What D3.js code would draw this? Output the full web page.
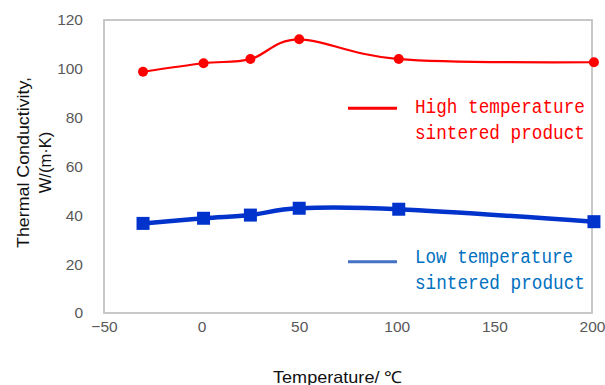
<!DOCTYPE html>
<html><head><meta charset="utf-8">
<script src="https://cdn.jsdelivr.net/npm/d3@7"></script>
<style>body{margin:0;background:#fff;}svg{display:block;}</style>
</head><body>
<svg id="c" width="605" height="385"></svg>
<script>
const temps = [-30, 1, 25, 50, 101, 201];
const highTemp = [98.8, 102.3, 104.0, 112.1, 104.0, 102.7];
const lowTemp = [36.7, 38.8, 40.1, 42.9, 42.5, 37.4];
const xTicks = [-50, 0, 50, 100, 150, 200];
const yTicks = [0, 20, 40, 60, 80, 100, 120];
const seriesNames = [["High temperature", "sintered product"], ["Low temperature", "sintered product"]];

const svg = d3.select("#c");
const L = 104, R = 592, T = 20, B = 313;
const x = d3.scaleLinear().domain([-50, 200]).range([L, R]);
const y = d3.scaleLinear().domain([0, 120]).range([B, T]);

svg.append("rect").attr("x", L).attr("y", T).attr("width", R - L).attr("height", B - T)
  .attr("fill", "none").attr("stroke", "#c3c3c3").attr("stroke-width", 1.8);

const tickFont = "'Liberation Sans', Arial, sans-serif";
const ya = svg.append("g").attr("transform", `translate(${L},0)`)
  .call(d3.axisLeft(y).tickValues(yTicks).tickSize(0).tickPadding(21));
ya.select(".domain").remove();
ya.selectAll("text").attr("font-family", tickFont).attr("font-size", 15.5).attr("fill", "#595959");

const xa = svg.append("g").attr("transform", `translate(0,${B})`)
  .call(d3.axisBottom(x).tickValues(xTicks).tickSize(0).tickPadding(8).tickFormat(d => d < 0 ? "\u2212" + Math.abs(d) : d));
xa.select(".domain").remove();
xa.selectAll("text").attr("font-family", tickFont).attr("font-size", 15.5).attr("fill", "#595959");

// axis titles
svg.append("text").attr("x", 273).attr("y", 382.5)
  .attr("font-family", tickFont).attr("font-size", 16.5).attr("fill", "#111")
  .attr("textLength", 129).attr("lengthAdjust", "spacingAndGlyphs")
  .text("Temperature/ \u2103");
const yt = svg.append("text").attr("transform", "translate(0,162.5) rotate(-90)")
  .attr("text-anchor", "middle").attr("font-family", tickFont).attr("font-size", 16.5).attr("fill", "#111");
yt.append("tspan").attr("x", 0).attr("y", 29).attr("textLength", 171).attr("lengthAdjust", "spacingAndGlyphs").text("Thermal Conductivity,");
yt.append("tspan").attr("x", 0).attr("y", 51).text("W/(m\u00B7K)");

const line = d3.line().curve(d3.curveCardinal.tension(0)).x(d => x(d[0])).y(d => y(d[1]));
const hi = temps.map((t, i) => [t, highTemp[i]]);
const lo = temps.map((t, i) => [t, lowTemp[i]]);

svg.append("path").datum(lo).attr("d", line).attr("fill", "none").attr("stroke", "#0033CC").attr("stroke-width", 4.5);
svg.selectAll("rect.m").data(lo).enter().append("rect").attr("class", "m")
  .attr("x", d => x(d[0]) - 6.5).attr("y", d => y(d[1]) - 6.5).attr("width", 13).attr("height", 13).attr("fill", "#0033CC");

svg.append("path").datum(hi).attr("d", line).attr("fill", "none").attr("stroke", "#FF0000").attr("stroke-width", 2.2);
svg.selectAll("circle.m").data(hi).enter().append("circle").attr("class", "m")
  .attr("cx", d => x(d[0])).attr("cy", d => y(d[1])).attr("r", 5).attr("fill", "#FF0000");

// legends
const monoFont = "'Liberation Mono', 'DejaVu Sans Mono', monospace";
function legend(lineY, baseY, lineColor, textColor, lines, widths) {
  svg.append("line").attr("x1", 348).attr("x2", 397).attr("y1", lineY).attr("y2", lineY)
    .attr("stroke", lineColor).attr("stroke-width", 3);
  lines.forEach((s, i) => {
    svg.append("text").attr("transform", `translate(415,${baseY + i * 25.5}) scale(1,1.2)`)
      .attr("x", 0).attr("y", 0)
      .attr("font-family", monoFont).attr("font-size", 17.5).attr("fill", textColor)
      .attr("textLength", widths[i]).attr("lengthAdjust", "spacingAndGlyphs").text(s);
  });
}
legend(108.3, 113, "#FF0000", "#FF0000", seriesNames[0], [170, 170]);
legend(261.7, 263, "#4472C4", "#0070C0", seriesNames[1], [158, 170]);
</script>
</body></html>
